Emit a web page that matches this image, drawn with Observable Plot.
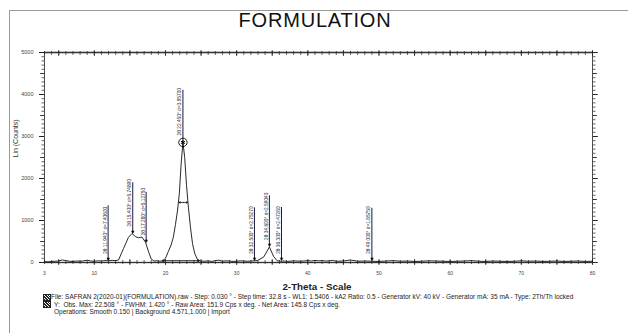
<!DOCTYPE html>
<html><head><meta charset="utf-8">
<script src="https://cdn.jsdelivr.net/npm/d3@7"></script>
<script src="https://cdn.jsdelivr.net/npm/@observablehq/plot@0.6"></script>
<style>
body{margin:0;background:#fff;font-family:"Liberation Sans",Arial,sans-serif;}
#wrap{position:relative;width:628px;height:333px;overflow:hidden;background:#fff;}
#frame{position:absolute;left:9px;top:10px;width:700px;height:400px;border-left:1.5px solid #9a9a9a;border-top:1.5px solid #9a9a9a;}
#chart{position:absolute;left:0;top:0;}
#title{position:absolute;left:0;width:630px;top:9.5px;line-height:20px;text-align:center;font-size:20px;letter-spacing:0.8px;color:#111;}
#xtitle{position:absolute;left:0;width:634px;top:281px;line-height:11px;text-align:center;font-size:9.8px;font-weight:bold;color:#222;}
#cap{position:absolute;left:51px;top:293px;font-size:6.5px;line-height:7.5px;color:#222;white-space:nowrap;}
.ico{position:absolute;left:43px;width:6px;height:5px;border:0.8px solid #222;background:repeating-linear-gradient(45deg,#222 0 1px,#fff 1px 2px);}
</style></head>
<body>
<div id="wrap">
  <div id="frame"></div>
  <div id="chart"></div>
  <div id="title">FORMULATION</div>
  <div id="xtitle">2-Theta - Scale</div>
  <div class="ico" style="top:293.5px"></div>
  <div class="ico" style="top:300.5px"></div>
  <div id="cap">
    <div>File: SAFRAN 2(2020-01)(FORMULATION).raw - Step: 0.030 ° - Step time: 32.8 s - WL1: 1.5406 - kA2 Ratio: 0.5 - Generator kV: 40 kV - Generator mA: 35 mA - Type: 2Th/Th locked</div>
    <div style="padding-left:3px">Y:&nbsp; Obs. Max: 22.508 ° - FWHM: 1.420 ° - Raw Area: 151.9 Cps x deg. - Net Area: 145.8 Cps x deg.</div>
    <div style="padding-left:3px">Operations: Smooth 0.150 | Background 4.571,1.000 | Import</div>
  </div>
</div>
<script>
// ---- data ----
const twoTheta = [3.0,3.5,4.0,4.5,5.0,5.5,6.0,6.5,7.0,7.5,8.0,8.5,9.0,9.5,10.0,10.5,11.0,11.5,12.0,12.5,13.0,
  13.4,14.1,14.8,15.3,15.8,16.2,16.7,17.2,17.65,18.0,18.4,18.8,19.2,19.6,
  20.0,20.4,20.8,21.1,21.4,21.7,21.95,22.2,22.45,22.7,22.95,23.2,23.5,23.8,24.1,24.5,24.9,
  25.5,26.0,26.5,27.0,27.5,28.0,28.5,29.0,29.5,30.0,30.5,31.0,31.5,32.0,32.5,32.9,33.8,34.6,35.2,35.7,36.2,36.7,37.2,
  38,39,40,40.5,41,41.5,42,42.5,43,43.5,44,45,46,47,48,49,50,51,52,53,54,55,56,57,58,59,60,
  61,62,63,64,65,66,67,68,69,70,71,72,73,74,75,76,77,78,79,80];
const counts = [20,15,25,30,35,60,45,30,25,35,30,40,55,35,30,40,35,45,40,50,45,
  60,330,600,690,615,590,605,480,240,80,35,40,30,40,
  100,260,420,600,900,1250,1650,2350,2860,2500,1850,1350,850,450,220,70,35,
  30,40,25,45,55,30,40,35,25,30,40,35,30,35,40,45,130,370,140,40,30,35,25,
  40,30,45,35,50,40,45,35,40,50,30,35,60,30,35,30,25,35,45,30,35,25,30,40,35,30,25,
  30,35,45,30,25,35,30,25,30,40,30,35,25,30,35,25,30,35,25,30];

const peakPos = [11.94, 15.40, 17.28, 22.45, 32.50, 34.60, 36.30, 49.00];
const peakMarkCounts = [40, 690, 480, 2860, 40, 370, 40, 40];
const peakTopCounts = [1350, 1900, 1670, 4100, 1300, 1590, 1310, 1290];
const peakLabels = ["2θ 11.940° d=7.40600","2θ 15.400° d=5.74890","2θ 17.280° d=5.12750","2θ 22.450° d=3.95700",
  "2θ 32.500° d=2.75270","2θ 34.600° d=2.59040","2θ 36.300° d=2.47280","2θ 49.000° d=1.85750"];
const peakSymbols = ["arrow","arrow","arrow","circle","arrow","arrow","arrow","arrow"];

const fwhmLeft = 21.9, fwhmRight = 23.1, fwhmLevel = 1430, fwhmCenter = 22.5;
const bgLeft = 19.7, bgRight = 24.6, bgLevel = 40;

const yTickLabels = [0,1000,2000,3000,4000,5000];
const xTickLabels = [3,10,20,30,40,50,60,70,80];
const yLabel = "Lin (Counts)";

// ---- build ----
const profile = twoTheta.map((t, i) => ({t, c: counts[i]}));
const peaks = peakPos.map((p, i) => ({x: p, mark: peakMarkCounts[i], top: peakTopCounts[i], label: peakLabels[i], sym: peakSymbols[i]}));
const yMinor = d3.range(0, 5001, 100), yMid = d3.range(0, 5001, 500);
const xMinor = d3.range(3, 81, 1), xMid = d3.range(5, 81, 5);
const blank = () => "";
const plain = d => String(d);

const chart = Plot.plot({
  width: 628, height: 333,
  marginLeft: 44, marginRight: 36, marginTop: 52, marginBottom: 71,
  x: {domain: [3, 80]},
  y: {domain: [0, 5000]},
  style: {background: "transparent", fontFamily: "Liberation Sans, Arial, sans-serif", color: "#222"},
  marks: [
    Plot.ruleY([5000], {stroke: "#8a8a8a", strokeWidth: 1.8}),
    Plot.ruleY([0], {stroke: "#777", strokeWidth: 1.4}),
    Plot.frame({stroke: "#222", strokeWidth: 0.8}),
    // left axis
    Plot.axisY(yMinor, {anchor: "left", tickSize: 2.5, tickFormat: blank, label: null, strokeWidth: 0.7}),
    Plot.axisY(yMid, {anchor: "left", tickSize: 4, tickFormat: blank, label: null, strokeWidth: 0.8}),
    Plot.axisY(yTickLabels, {anchor: "left", tickSize: 5, tickPadding: 6, fontSize: 5.5, tickFormat: plain, label: null, fill: "#444"}),
    // right axis
    Plot.axisY(yMinor, {anchor: "right", tickSize: 2.5, tickFormat: blank, label: null, strokeWidth: 0.7}),
    Plot.axisY(yMid, {anchor: "right", tickSize: 4, tickFormat: blank, label: null, strokeWidth: 0.8}),
    Plot.axisY(yTickLabels, {anchor: "right", tickSize: 5, tickFormat: blank, label: null, strokeWidth: 0.8}),
    // bottom axis
    Plot.axisX(xMinor, {anchor: "bottom", tickSize: 4, insetBottom: 2, tickFormat: blank, label: null, strokeWidth: 0.7}),
    Plot.axisX(xMid, {anchor: "bottom", tickSize: 6, insetBottom: 3, tickFormat: blank, label: null, strokeWidth: 0.8}),
    Plot.axisX(xTickLabels, {anchor: "bottom", tickSize: 0, tickPadding: 9, fontSize: 5, tickFormat: plain, label: null, fill: "#444"}),
    // top axis
    Plot.axisX(xMinor, {anchor: "top", tickSize: 4, insetTop: 2, tickFormat: blank, label: null, strokeWidth: 0.7}),
    Plot.axisX(xMid, {anchor: "top", tickSize: 6, insetTop: 3, tickFormat: blank, label: null, strokeWidth: 0.8}),
    // y label
    Plot.text([yLabel], {frameAnchor: "left", dx: -29, rotate: -90, fontSize: 7, fill: "#333"}),
    // background line
    Plot.link([{x1: bgLeft, x2: bgRight, y: bgLevel}], {x1: "x1", x2: "x2", y1: "y", y2: "y", stroke: "#222", strokeWidth: 1.1}),
    Plot.dot([{x: bgLeft, y: bgLevel}, {x: bgRight, y: bgLevel}], {x: "x", y: "y", r: 1.3, fill: "#222"}),
    // profile
    Plot.line(profile, {x: "t", y: "c", stroke: "#111", strokeWidth: 0.9}),
    // FWHM double arrow
    Plot.arrow([{x1: fwhmCenter, x2: fwhmLeft}, {x1: fwhmCenter, x2: fwhmRight}], {x1: "x1", x2: "x2", y1: () => fwhmLevel, y2: () => fwhmLevel, headLength: 3, stroke: "#111", strokeWidth: 0.8}),
    // peak marker lines and labels
    Plot.ruleX(peaks, {x: "x", y1: "mark", y2: "top", stroke: "#1b1b3a", strokeWidth: 1}),
    Plot.text(peaks, {x: "x", y: "mark", text: "label", rotate: -90, textAnchor: "start", dx: -3, dy: -7, fontSize: 4.8, fill: "#2a2a40"}),
    Plot.text(peaks.filter(d => d.sym === "arrow"), {x: "x", y: "mark", text: () => "▼", fontSize: 5.5, dy: -1.5, fill: "#000"}),
    Plot.dot(peaks.filter(d => d.sym === "circle"), {x: "x", y: "mark", r: 4.2, stroke: "#000", strokeWidth: 0.9, fill: "none"}),
    Plot.dot(peaks.filter(d => d.sym === "circle"), {x: "x", y: "mark", r: 2.2, symbol: "asterisk", stroke: "#000", strokeWidth: 1})
  ]
});
document.getElementById("chart").appendChild(chart);
</script>
</body></html>
